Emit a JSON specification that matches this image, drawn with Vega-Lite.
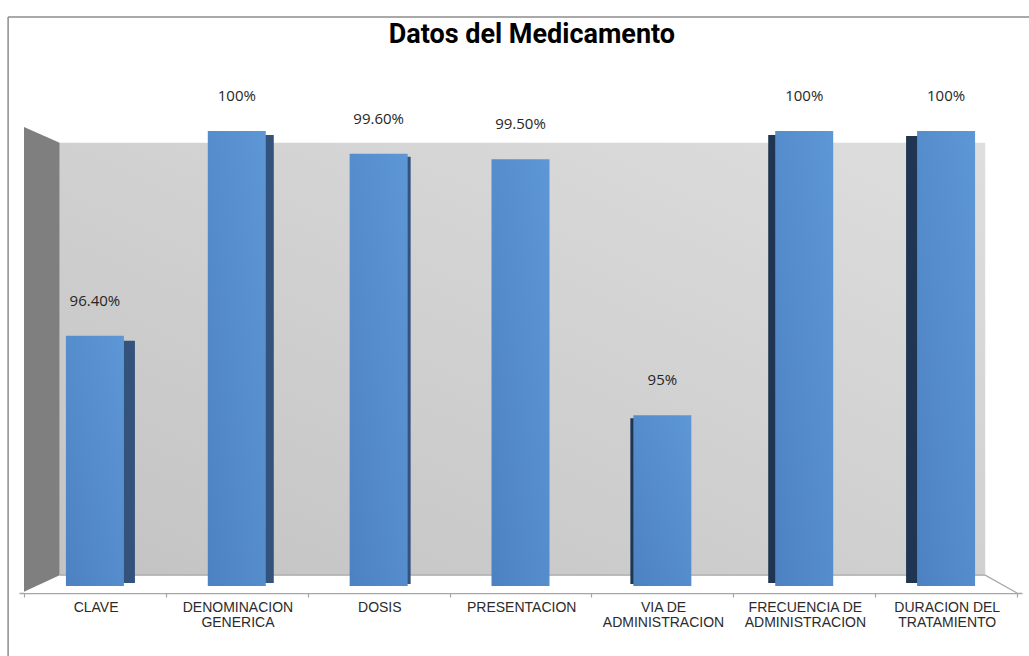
{
  "$schema": "https://vega.github.io/schema/vega-lite/v6.json",
  "width": 1003,
  "height": 519,
  "autosize": {"type": "none"},
  "padding": {"left": 19, "top": 74, "right": 7, "bottom": 63},
  "background": "white",
  "view": {"stroke": null},
  "datasets": {
    "bars": [
      {"pos": 0, "cat": "CLAVE", "value": 96.4, "label": "96.40%"},
      {"pos": 1, "cat": "DENOMINACION GENERICA", "value": 100, "label": "100%"},
      {"pos": 2, "cat": "DOSIS", "value": 99.6, "label": "99.60%"},
      {"pos": 3, "cat": "PRESENTACION", "value": 99.5, "label": "99.50%"},
      {"pos": 4, "cat": "VIA DE ADMINISTRACION", "value": 95, "label": "95%"},
      {"pos": 5, "cat": "FRECUENCIA DE ADMINISTRACION", "value": 100, "label": "100%"},
      {"pos": 6, "cat": "DURACION DEL TRATAMIENTO", "value": 100, "label": "100%"}
    ],
    "titletext": [{"pos": 3.08, "y": 101.55, "text": "Datos del Medicamento"}],
    "wallrect": [{"pos": -0.249, "pos2": 6.276, "y": 99.79, "y2": 92.19}],
    "sidewallpoly": [
      {"pos": -0.5, "y": 100.07, "y2": 91.9},
      {"pos": -0.249, "y": 99.79, "y2": 92.19}
    ],
    "floorpoly": [
      {"pos": -0.5, "y": 91.9, "y2": 91.877},
      {"pos": -0.249, "y": 92.19, "y2": 91.877},
      {"pos": 6.276, "y": 92.19, "y2": 91.877},
      {"pos": 6.5, "y": 91.877, "y2": 91.877}
    ],
    "flooredge": [
      {"pos": -0.249, "y": 92.19},
      {"pos": 6.276, "y": 92.19},
      {"pos": 6.5, "y": 91.877}
    ],
    "frameleft": [{"pos": -0.612, "y": 102.0, "y2": 90.7}],
    "frametop": [{"pos": -0.612, "pos2": 6.6, "y": 102.0}]
  },
  "encoding": {
    "x": {
      "field": "pos",
      "type": "quantitative",
      "scale": {"domain": [-0.5, 6.5], "zero": false, "nice": false},
      "axis": {
        "title": null,
        "values": [-0.5, 0.5, 1.5, 2.5, 3.5, 4.5, 5.5, 6.5],
        "labelExpr": "datum.value > 6 ? '' : ['CLAVE', ['DENOMINACION', 'GENERICA'], 'DOSIS', 'PRESENTACION', ['VIA DE', 'ADMINISTRACION'], ['FRECUENCIA DE', 'ADMINISTRACION'], ['DURACION DEL', 'TRATAMIENTO']][round(datum.value + 0.5)]",
        "labelOffset": 71.6,
        "labelOverlap": false,
        "labelFlush": false,
        "labelBound": false,
        "labelAngle": 0,
        "labelAlign": "center",
        "labelBaseline": "top",
        "labelFont": "Liberation Sans",
        "labelFontSize": 14,
        "labelColor": "#2B2B2B",
        "labelLineHeight": 15,
        "labelPadding": 3,
        "grid": false,
        "domainColor": "#A6A6A6",
        "domainWidth": 1.5,
        "tickColor": "#A6A6A6",
        "tickWidth": 1.2,
        "tickSize": 4
      }
    },
    "y": {
      "field": "y",
      "type": "quantitative",
      "scale": {"domain": [91.877, 101], "zero": false, "nice": false},
      "axis": null
    }
  },
  "layer": [
    {
      "data": {"name": "wallrect"},
      "mark": {
        "type": "rect",
        "fill": {
          "gradient": "linear",
          "x1": 0, "y1": 1, "x2": 1, "y2": 0,
          "stops": [
            {"offset": 0, "color": "#C3C3C3"},
            {"offset": 1, "color": "#DEDEDE"}
          ]
        }
      },
      "encoding": {
        "x2": {"field": "pos2"},
        "y2": {"field": "y2"}
      }
    },
    {
      "data": {"name": "floorpoly"},
      "mark": {"type": "area", "fill": "#FFFFFF"},
      "encoding": {"y2": {"field": "y2"}}
    },
    {
      "data": {"name": "sidewallpoly"},
      "mark": {"type": "area", "fill": "#7F7F7F"},
      "encoding": {"y2": {"field": "y2"}}
    },
    {
      "data": {"name": "flooredge"},
      "mark": {"type": "line", "color": "#A6A6A6", "strokeWidth": 1.2},
      "encoding": {}
    },
    {
      "data": {"name": "frameleft"},
      "mark": {"type": "rule", "color": "#8C8C8C", "strokeWidth": 1.5},
      "encoding": {"y2": {"field": "y2"}}
    },
    {
      "data": {"name": "frametop"},
      "mark": {"type": "rule", "color": "#8C8C8C", "strokeWidth": 1.5},
      "encoding": {"x2": {"field": "pos2"}}
    },
    {
      "data": {"name": "titletext"},
      "mark": {
        "type": "text",
        "font": "Roboto",
        "fontSize": 27,
        "fontWeight": "bold",
        "color": "#000000",
        "align": "center",
        "baseline": "alphabetic"
      },
      "encoding": {"text": {"field": "text"}}
    },
    {
      "data": {"name": "bars"},
      "transform": [{"filter": "datum.pos === 0"}],
      "mark": {"type": "bar", "color": "#33527C", "width": 58, "xOffset": 11, "yOffset": 5, "y2Offset": -3},
      "encoding": {"y": {"field": "value", "type": "quantitative"}, "y2": {"datum": 92}}
    },
    {
      "data": {"name": "bars"},
      "transform": [{"filter": "datum.pos === 1"}],
      "mark": {"type": "bar", "color": "#33527C", "width": 58, "xOffset": 8, "yOffset": 4, "y2Offset": -3},
      "encoding": {"y": {"field": "value", "type": "quantitative"}, "y2": {"datum": 92}}
    },
    {
      "data": {"name": "bars"},
      "transform": [{"filter": "datum.pos === 2"}],
      "mark": {"type": "bar", "color": "#33527C", "width": 58, "xOffset": 3, "yOffset": 3, "y2Offset": -2},
      "encoding": {"y": {"field": "value", "type": "quantitative"}, "y2": {"datum": 92}}
    },
    {
      "data": {"name": "bars"},
      "transform": [{"filter": "datum.pos === 4"}],
      "mark": {"type": "bar", "color": "#1F3552", "width": 58, "xOffset": -3, "yOffset": 3, "y2Offset": -2},
      "encoding": {"y": {"field": "value", "type": "quantitative"}, "y2": {"datum": 92}}
    },
    {
      "data": {"name": "bars"},
      "transform": [{"filter": "datum.pos === 5"}],
      "mark": {"type": "bar", "color": "#1F3552", "width": 58, "xOffset": -7, "yOffset": 4, "y2Offset": -3},
      "encoding": {"y": {"field": "value", "type": "quantitative"}, "y2": {"datum": 92}}
    },
    {
      "data": {"name": "bars"},
      "transform": [{"filter": "datum.pos === 6"}],
      "mark": {"type": "bar", "color": "#1F3552", "width": 58, "xOffset": -11, "yOffset": 5, "y2Offset": -3},
      "encoding": {"y": {"field": "value", "type": "quantitative"}, "y2": {"datum": 92}}
    },
    {
      "data": {"name": "bars"},
      "mark": {
        "type": "bar",
        "width": 58,
        "fill": {
          "gradient": "linear",
          "x1": 0, "y1": 1, "x2": 1, "y2": 0,
          "stops": [
            {"offset": 0, "color": "#4D82C2"},
            {"offset": 1, "color": "#5E97D6"}
          ]
        }
      },
      "encoding": {"y": {"field": "value", "type": "quantitative"}, "y2": {"datum": 92}}
    },
    {
      "data": {"name": "bars"},
      "mark": {
        "type": "text",
        "dy": -35,
        "baseline": "middle",
        "font": "Open Sans",
        "fontSize": 15,
        "color": "#262626"
      },
      "encoding": {
        "y": {"field": "value", "type": "quantitative"},
        "text": {"field": "label"}
      }
    }
  ]
}
